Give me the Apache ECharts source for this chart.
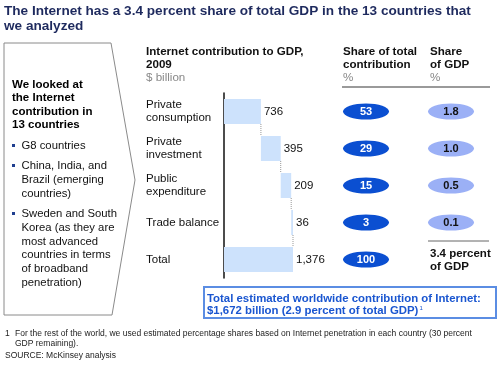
<!DOCTYPE html>
<html><head><meta charset="utf-8">
<script src="https://cdn.jsdelivr.net/npm/echarts@6/dist/echarts.min.js"></script>
<style>html,body{margin:0;padding:0;background:#fff}#c{width:500px;height:365px}</style>
</head><body><div id="c"></div>
<script>
const categories = ['Private\nconsumption', 'Private\ninvestment', 'Public\nexpenditure', 'Trade balance', 'Total'];
const contribution = [736, 395, 209, 36, 1376];
const shareTotal = [53, 29, 15, 3, 100];
const shareGdp = [1.8, 1.0, 0.5, 0.1, null];
const isTotal = [false, false, false, false, true];

// waterfall bases
const base = [];
let run = 0;
contribution.forEach((v, i) => {
  if (isTotal[i]) { base.push(0); } else { base.push(run); run += v; }
});
const connectors = [];
for (let i = 0; i < contribution.length - 1; i++) {
  connectors.push([base[i] + contribution[i], i]);
}

const FONT = '"Liberation Sans", Arial, sans-serif';
const fmt = v => String(v).replace(/\B(?=(\d{3})+(?!\d))/g, ',');
const chart = echarts.init(document.getElementById('c'), null, {renderer: 'canvas'});

function txt(x, y, text, size, weight, color, extra) {
  return {
    type: 'text', x: x, y: y,
    style: Object.assign({text: text, font: (weight || 'normal') + ' ' + size + 'px ' + FONT,
      fill: color || '#111', textVerticalAlign: 'middle'}, extra || {})
  };
}

const leftBold = ['We looked at', 'the Internet', 'contribution in', '13 countries'];
const graphics = [
  txt(4, 11, 'The Internet has a 3.4 percent share of total GDP in the 13 countries that', 13.6, 'bold', '#1e2a5e'),
  txt(4, 26, 'we analyzed', 13.6, 'bold', '#1e2a5e'),
  {type: 'polygon', shape: {points: [[4, 43], [111, 43], [135, 180], [112, 315], [4, 315]]},
   style: {fill: '#fff', stroke: '#8a8a8a', lineWidth: 1}},
];
leftBold.forEach((t, i) => graphics.push(txt(12, 85 + i * 13.2, t, 11.5, 'bold', '#000')));
const bullets = [
  {y: 146, lines: ['G8 countries']},
  {y: 166, lines: ['China, India, and', 'Brazil (emerging', 'countries)']},
  {y: 214, lines: ['Sweden and South', 'Korea (as they are', 'most advanced', 'countries in terms', 'of broadband', 'penetration)']}
];
bullets.forEach(b => {
  graphics.push({type: 'rect', shape: {x: 12, y: b.y - 2, width: 3, height: 3}, style: {fill: '#1f3f8f'}});
  b.lines.forEach((l, j) => graphics.push(txt(21.5, b.y + j * 13.7, l, 11.3, 'normal', '#111')));
});
// headers
const H = 11.6;
graphics.push(txt(146, 52, 'Internet contribution to GDP,', H, 'bold', '#111'));
graphics.push(txt(146, 65, '2009', H, 'bold', '#111'));
graphics.push(txt(146, 78, '$ billion', H, 'normal', '#888'));
graphics.push(txt(343, 52, 'Share of total', H, 'bold', '#111'));
graphics.push(txt(343, 65, 'contribution', H, 'bold', '#111'));
graphics.push(txt(343, 78, '%', H, 'normal', '#888'));
graphics.push(txt(430, 52, 'Share', H, 'bold', '#111'));
graphics.push(txt(430, 65, 'of GDP', H, 'bold', '#111'));
graphics.push(txt(430, 78, '%', H, 'normal', '#888'));
graphics.push({type: 'line', shape: {x1: 342, y1: 87, x2: 490, y2: 87}, style: {stroke: '#9a9a9a', lineWidth: 2}});
graphics.push({type: 'line', shape: {x1: 428, y1: 241, x2: 489, y2: 241}, style: {stroke: '#666', lineWidth: 1}});
graphics.push(txt(430, 254, '3.4 percent', 11.5, 'bold', '#111'));
graphics.push(txt(430, 267, 'of GDP', 11.5, 'bold', '#111'));
// box
graphics.push({type: 'rect', shape: {x: 204, y: 287, width: 292, height: 31}, style: {fill: 'none', stroke: '#5b8de3', lineWidth: 2}});
graphics.push(txt(207, 299, 'Total estimated worldwide contribution of Internet:', 11.4, 'bold', '#1a56d0'));
graphics.push({type: 'text', x: 207, y: 311, style: {
  text: '$1,672 billion (2.9 percent of total GDP){s|1}',
  font: 'bold 11.4px ' + FONT, fill: '#1a56d0', textVerticalAlign: 'middle',
  rich: {s: {fontSize: 6, fontWeight: 'normal', fontFamily: FONT, padding: [0, 0, 6, 1], fill: '#1a56d0'}}
}});
// footnote
graphics.push(txt(5, 334, '1', 8.5, 'normal', '#222'));
graphics.push(txt(15, 334, 'For the rest of the world, we used estimated percentage shares based on Internet penetration in each country (30 percent', 8.5, 'normal', '#222'));
graphics.push(txt(15, 344, 'GDP remaining).', 8.5, 'normal', '#222'));
graphics.push(txt(5, 356, 'SOURCE: McKinsey analysis', 8.5, 'normal', '#222'));

const yCat = (gi, show) => ({
  type: 'category', gridIndex: gi, data: categories, inverse: true,
  axisLine: {show: show, lineStyle: {color: '#111', width: 1.5}},
  axisTick: {show: false},
  axisLabel: {show: show, align: 'left', margin: 78, fontFamily: FONT, fontSize: 11.5, color: '#111', lineHeight: 13}
});

chart.setOption({
  animation: false,
  textStyle: {fontFamily: FONT},
  graphic: graphics,
  grid: [
    {left: 224, top: 93, width: 69, height: 185},
    {left: 366, top: 93, width: 85, height: 185}
  ],
  xAxis: [
    {type: 'value', gridIndex: 0, min: 0, max: 1376, show: false},
    {type: 'value', gridIndex: 1, min: 0, max: 1, show: false}
  ],
  yAxis: [yCat(0, true), yCat(1, false)],
  series: [
    {type: 'bar', stack: 'w', xAxisIndex: 0, yAxisIndex: 0, data: base, barWidth: 25,
     itemStyle: {color: 'transparent'}, silent: true},
    {type: 'bar', stack: 'w', xAxisIndex: 0, yAxisIndex: 0, data: contribution, barWidth: 25,
     itemStyle: {color: '#cde2fc'},
     label: {show: true, position: 'right', distance: 3, formatter: p => fmt(p.value),
             fontFamily: FONT, fontSize: 11.5, color: '#111'}},
    {type: 'custom', xAxisIndex: 0, yAxisIndex: 0, data: connectors,
     renderItem: (params, api) => {
       const p1 = api.coord([api.value(0), api.value(1)]);
       const p2 = api.coord([api.value(0), api.value(1) + 1]);
       return {type: 'line', shape: {x1: p1[0], y1: p1[1] + 12.5, x2: p2[0], y2: p2[1] - 12.5},
               style: {stroke: '#999', lineWidth: 1, lineDash: [1, 1]}};
     }},
    {type: 'scatter', xAxisIndex: 1, yAxisIndex: 1, symbol: 'circle', symbolSize: [46, 16],
     data: shareTotal.map((v, i) => [0, i, v]),
     itemStyle: {color: '#0b4fd1', opacity: 1},
     label: {show: true, position: 'inside', formatter: p => String(p.value[2]),
             fontFamily: FONT, fontSize: 11, fontWeight: 'bold', color: '#fff'}},
    {type: 'scatter', xAxisIndex: 1, yAxisIndex: 1, symbol: 'circle', symbolSize: [46, 16],
     data: shareGdp.map((v, i) => v == null ? null : [1, i, v]).filter(d => d),
     itemStyle: {color: '#9bb0f6', opacity: 1},
     label: {show: true, position: 'inside', formatter: p => p.value[2].toFixed(1),
             fontFamily: FONT, fontSize: 11, fontWeight: 'bold', color: '#111'}}
  ]
});
</script>
</body></html>
